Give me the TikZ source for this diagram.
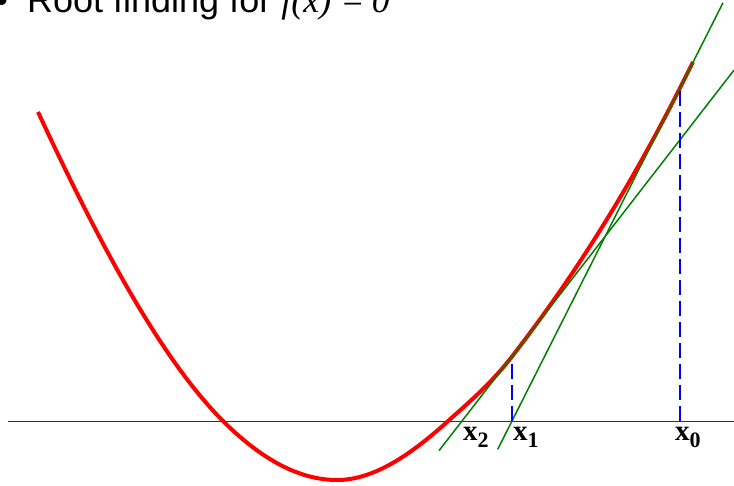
\documentclass[tikz,border=0pt]{standalone}
\usepackage{fontspec}
\usetikzlibrary{calc}
\newfontfamily\titlefont{Liberation Sans}
\newfontfamily\lblfont{Liberation Serif}
\newcommand{\xsub}[1]{x\raisebox{-7pt}{\fontsize{22}{22}\selectfont #1}}
\tikzset{
  curve/.style={line width=4pt,red,line join=round},
  tangent/.style={line width=1.5pt,green!50!black},
  drop/.style={line width=2.5pt,blue,dash pattern=on 15pt off 6pt},
  ptlabel/.style={anchor=base west,inner sep=0pt,font=\lblfont\bfseries\fontsize{29}{30}\selectfont}
}
\begin{document}
\begin{tikzpicture}[x=1pt,y=-1pt]
  \useasboundingbox (0,0) rectangle (734,485);
  % Title
  \node[anchor=base west,inner sep=0pt,font=\titlefont\fontsize{36}{40}\selectfont] (bullet) at (-4.8,12.5) {•};
  \node[anchor=base west,inner sep=0pt,font=\titlefont\fontsize{36}{40}\selectfont] (title) at (27,12.5)
    {Root finding for {\lblfont\itshape f(x)\hspace{0.25em}=\hspace{0.2em}0}};
  % Axis
  \coordinate (axL) at (8,421);
  \coordinate (axR) at (734,421);
  \draw[line width=1pt,black!80] (axL) -- (axR);
  % Points
  \coordinate (X0) at (680,421);
  \coordinate (X1) at (512,421);
  \coordinate (X2) at (462,421);
  \coordinate (T0) at (680,88);
  \coordinate (T1) at (512,356.5);
  % Curve
  \draw[curve] (38,112) .. controls (99.7,244.6) and (161.3,359.3) .. (223,421)
    .. controls (261,459) and (299,480) .. (337,480)
    .. controls (373.7,480) and (410.3,455) .. (447,422)
    .. controls (468.7,402.5) and (490.3,384.5) .. (T1)
    .. controls (568,284.3) and (624,198.9) .. (T0)
    -- (693,62);
  % Tangents
  \draw[tangent] ($(X1)!-0.085!(T0)$) -- ($(X1)!1.256!(T0)$);
  \draw[tangent] ($(X2)!-0.46!(T1)$) -- ($(X2)!5.44!(T1)$);
  % Drops
  \draw[drop] (X0) -- ([yshift=3pt]T0);
  \draw[drop] (X1) -- ([yshift=-5pt]T1);
  % Labels
  \node[ptlabel] (l2) at ([shift={(1,19)}]X2) {\xsub{2}};
  \node[ptlabel] (l1) at ([shift={(1,19)}]X1) {\xsub{1}};
  \node[ptlabel] (l0) at ([shift={(-5,19)}]X0) {\xsub{0}};
\end{tikzpicture}
\end{document}
